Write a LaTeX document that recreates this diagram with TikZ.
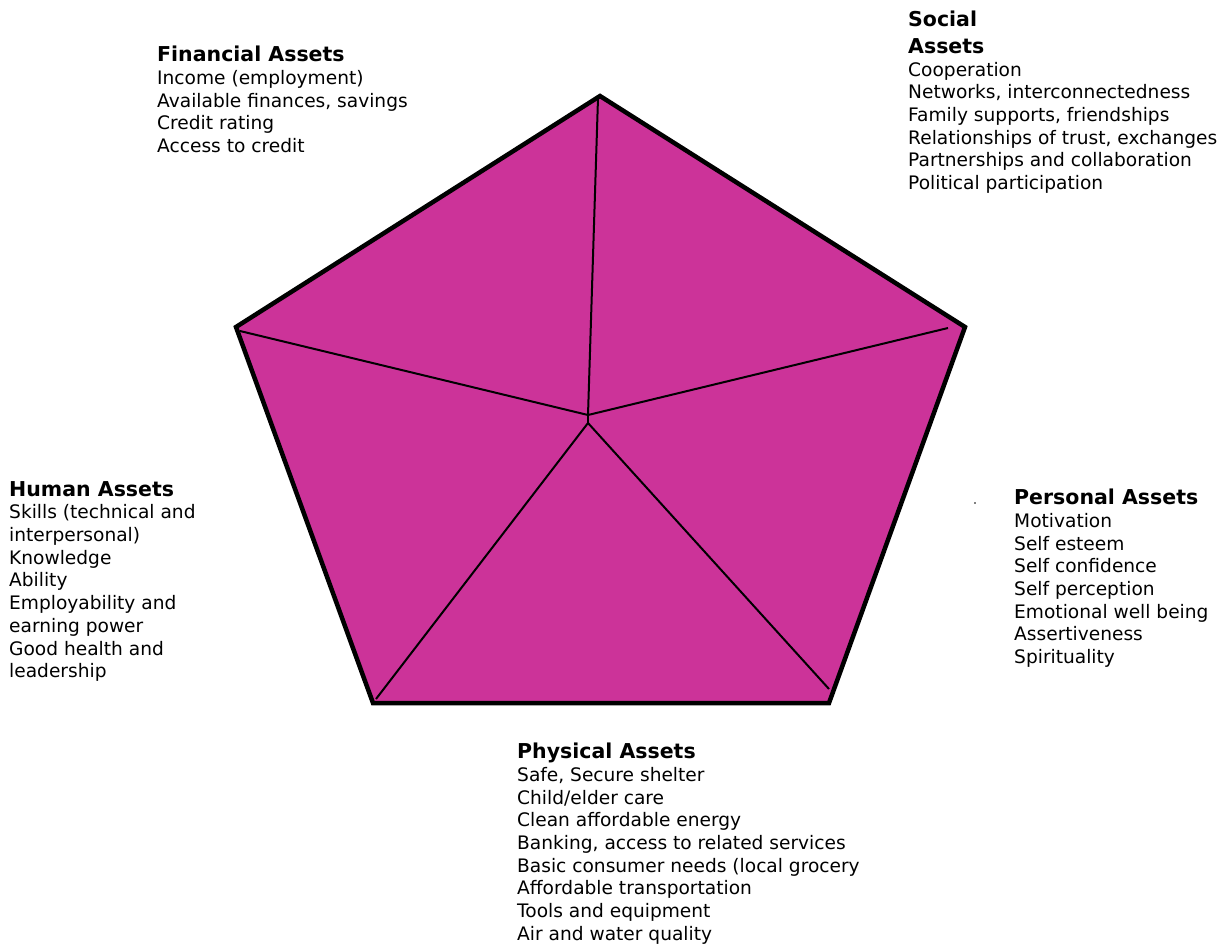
\documentclass[tikz,border=0pt]{standalone}
\usepackage{fontspec}
\setmainfont{DejaVu Sans}
\usetikzlibrary{positioning}

\definecolor{assetpink}{HTML}{CC3399}

\tikzset{
  assetlist/.style={anchor=north west, inner sep=0pt, align=left,
    font=\fontsize{18.6}{22.7}\selectfont},
  spoke/.style={line width=2pt, line join=round},
}
\newcommand{\assethead}[1]{{\bfseries\fontsize{20.5}{22.7}\selectfont #1}}

\begin{document}
\begin{tikzpicture}[x=1pt, y=-1pt]
			\useasboundingbox (0,0) rectangle (1229,945);

			% Corners of the pentagon
			\coordinate (top) at (600,96);
			\coordinate (right) at (965,327);
			\coordinate (bright) at (829,703);
			\coordinate (bleft) at (373,703);
			\coordinate (left) at (236,327);
			\coordinate (hub) at (588,415);
			\coordinate (hublow) at (588,423);

			% Pentagon
			\filldraw[fill=assetpink, draw=black, line width=4.5pt]
				(top) -- (right) -- (bright) -- (bleft) -- (left) -- cycle;

			% Spokes
			\draw[spoke] (hub) -- (598,98);
			\draw[spoke] (hub) -- (948,328);
			\draw[spoke] (hub) -- (240,331);
			\draw[spoke] (hub) -- (hublow);
			\draw[spoke] (hublow) -- (829,689);
			\draw[spoke] (hublow) -- (376,699);

			% Asset lists
			\node[assetlist] (fin) at (157,46) {\assethead{Financial Assets}\\
				Income (employment)\\ Available finances, savings\\
				Credit rating\\ Access to credit};
			\node[assetlist] (soc) at (908,11) {\assethead{Social}\\[4pt]
				\assethead{Assets}\\ Cooperation\\ Networks, interconnectedness\\
				Family supports, friendships\\ Relationships of trust, exchanges\\
				Partnerships and collaboration\\ Political participation};
			\node[assetlist] (pers) at (1014,489) {\assethead{Personal Assets}\\
				Motivation\\ Self esteem\\ Self confidence\\ Self perception\\
				Emotional well being\\ Assertiveness\\ Spirituality};
			\node[assetlist] (hum) at (9,481) {\assethead{Human Assets}\\
				Skills (technical and\\ interpersonal)\\ Knowledge\\ Ability\\
				Employability and\\ earning power\\ Good health and\\ leadership};
			\node[assetlist] (phys) at (517,743) {\assethead{Physical Assets}\\
				Safe, Secure shelter\\ Child/elder care\\ Clean affordable energy\\
				Banking, access to related services\\
				Basic consumer needs (local grocery\\ Affordable transportation\\
				Tools and equipment\\ Air and water quality};

			% Stray dot
			\fill (975,503) circle (0.8);
		\end{tikzpicture}
\end{document}
